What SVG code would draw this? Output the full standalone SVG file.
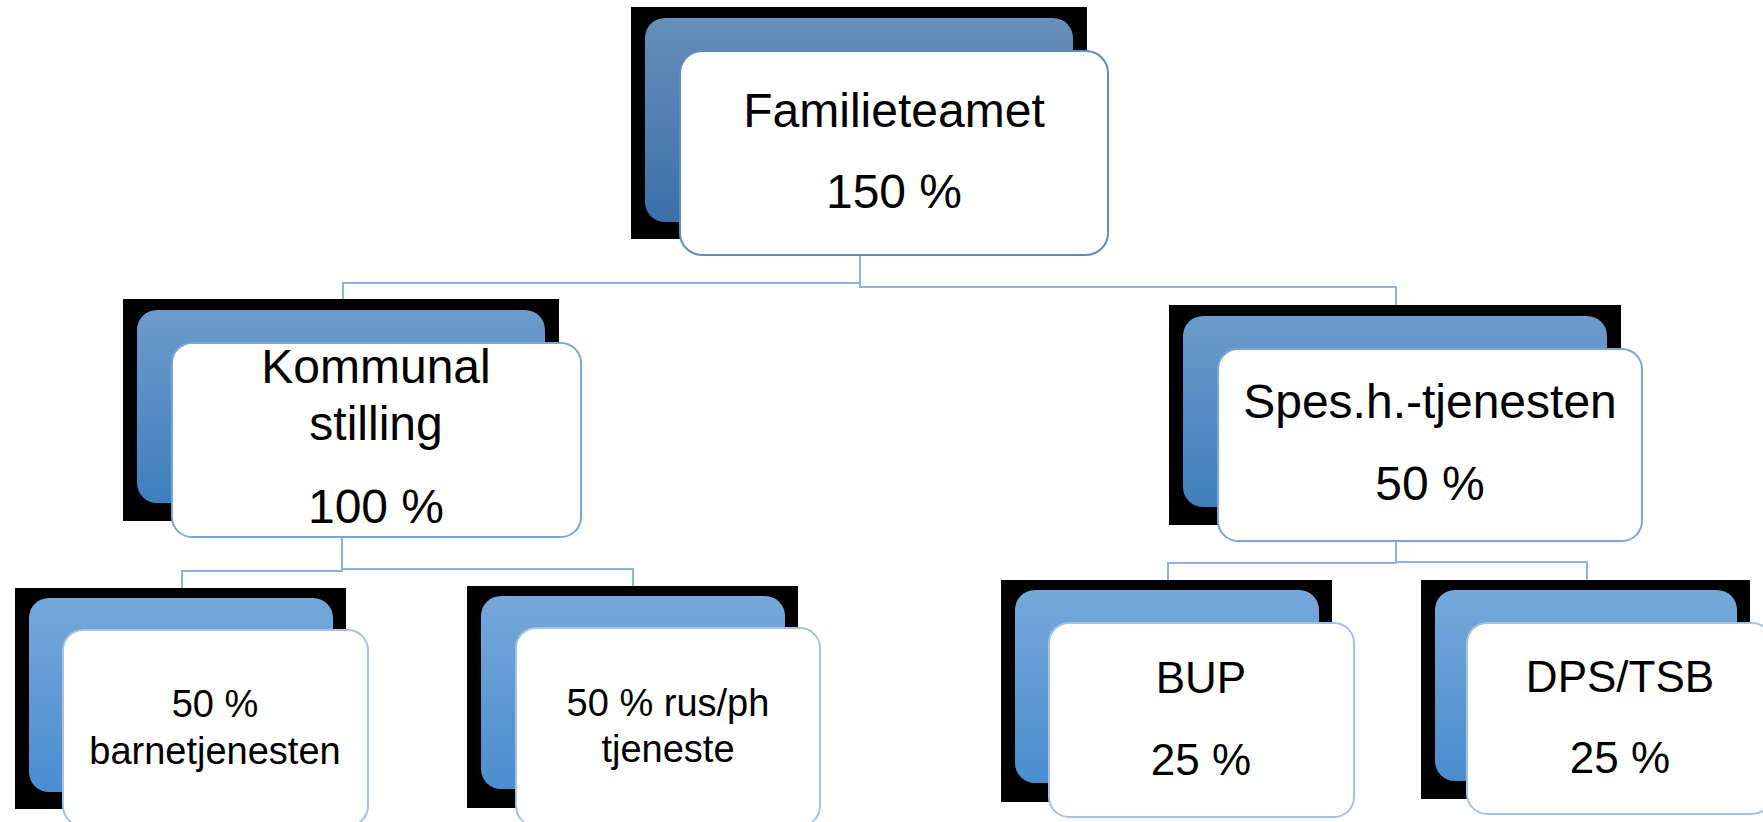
<svg xmlns="http://www.w3.org/2000/svg" width="1763" height="822" viewBox="0 0 1763 822">
<defs>
<linearGradient id="g0" x1="0" y1="0" x2="0" y2="1"><stop offset="0" stop-color="#678FB9"/><stop offset="1" stop-color="#3A70A8"/></linearGradient>
<linearGradient id="g1" x1="0" y1="0" x2="0" y2="1"><stop offset="0" stop-color="#6C9BCB"/><stop offset="1" stop-color="#3F7EBD"/></linearGradient>
<linearGradient id="g2" x1="0" y1="0" x2="0" y2="1"><stop offset="0" stop-color="#76A8DA"/><stop offset="1" stop-color="#4A8DCE"/></linearGradient>
<style>
.sh{fill:#000}
.fr{fill:#fff;stroke-width:2}
.c{fill:none;stroke:#8DB4E0;stroke-width:2}
text{font-family:"Liberation Sans",Arial,sans-serif;fill:#000;text-anchor:middle}
.t0{font-size:48px}
.t2{font-size:38px}
.t3{font-size:44px}
</style>
</defs>
<g id="connectors">
<path class="c" d="M860,255 V283 H343 V300"/>
<path class="c" d="M860,255 V287 H1396 V306"/>
<path class="c" d="M342,537 V571 H182 V589"/>
<path class="c" d="M342,537 V569 H633 V587"/>
<path class="c" d="M1396,541 V563 H1168 V581"/>
<path class="c" d="M1396,541 V562 H1587 V581"/>
</g>
<g id="familieteamet">
<rect class="sh" x="631" y="7" width="456" height="232"/>
<rect x="645" y="18" width="428" height="204" rx="20" fill="url(#g0)"/>
<rect class="fr" x="680" y="51" width="428" height="204" rx="22" stroke="#5B8EC6" stroke-width="2.5"/>
<text class="t0" x="894" y="127">Familieteamet</text>
<text class="t0" x="894" y="208">150 %</text>
</g>
<g id="kommunal">
<rect class="sh" x="123" y="299" width="436" height="222"/>
<rect x="137" y="310" width="408" height="193" rx="20" fill="url(#g1)"/>
<rect class="fr" x="172" y="343" width="409" height="194" rx="20" stroke="#7AA7D8"/>
<text class="t0" x="376" y="383">Kommunal</text>
<text class="t0" x="376" y="440">stilling</text>
<text class="t0" x="376" y="523">100 %</text>
</g>
<g id="spes">
<rect class="sh" x="1169" y="305" width="452" height="220"/>
<rect x="1183" y="316" width="424" height="191" rx="20" fill="url(#g1)"/>
<rect class="fr" x="1218" y="349" width="424" height="192" rx="20" stroke="#7AA7D8"/>
<text class="t0" x="1430" y="418">Spes.h.-tjenesten</text>
<text class="t0" x="1430" y="500">50 %</text>
</g>
<g id="barnetjenesten">
<rect class="sh" x="15" y="588" width="331" height="221"/>
<rect x="29" y="598" width="304" height="194" rx="20" fill="url(#g2)"/>
<rect class="fr" x="63" y="630" width="305" height="196" rx="20" stroke="#A3C2E5"/>
<text class="t2" x="215" y="717">50 %</text>
<text class="t2" x="215" y="764">barnetjenesten</text>
</g>
<g id="rusph">
<rect class="sh" x="467" y="586" width="331" height="222"/>
<rect x="481" y="596" width="304" height="193" rx="20" fill="url(#g2)"/>
<rect class="fr" x="516" y="628" width="304" height="198" rx="20" stroke="#A3C2E5"/>
<text class="t2" x="668" y="716">50 % rus/ph</text>
<text class="t2" x="668" y="762">tjeneste</text>
</g>
<g id="bup">
<rect class="sh" x="1001" y="580" width="331" height="222"/>
<rect x="1015" y="590" width="304" height="193" rx="20" fill="url(#g2)"/>
<rect class="fr" x="1049" y="623" width="305" height="194" rx="20" stroke="#A3C2E5"/>
<text class="t3" x="1201" y="693">BUP</text>
<text class="t3" x="1201" y="775">25 %</text>
</g>
<g id="dps">
<rect class="sh" x="1421" y="580" width="329" height="219"/>
<rect x="1435" y="590" width="302" height="191" rx="20" fill="url(#g2)"/>
<rect class="fr" x="1467" y="623" width="305" height="191" rx="20" stroke="#A3C2E5"/>
<text class="t3" x="1620" y="692">DPS/TSB</text>
<text class="t3" x="1620" y="773">25 %</text>
</g>
</svg>
